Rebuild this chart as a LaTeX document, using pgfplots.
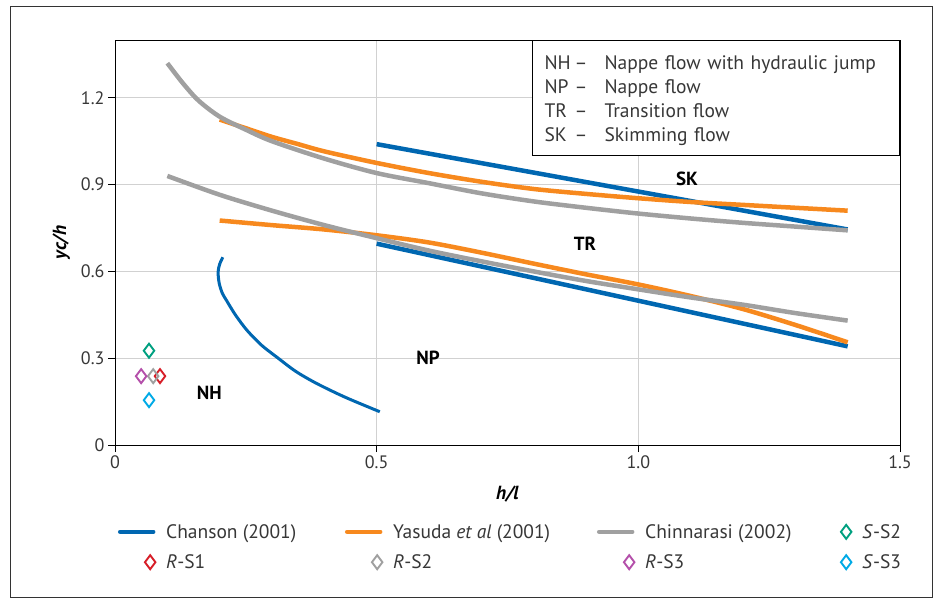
\documentclass[border=0pt]{standalone}
\usepackage{pgfplots}
\pgfplotsset{compat=1.18}
\usepackage{fontspec}
\setmainfont{PT Sans}
\definecolor{cblue}{RGB}{0,103,177}
\definecolor{corange}{RGB}{247,137,30}
\definecolor{cgray}{RGB}{160,160,160}
\definecolor{cgreen}{RGB}{0,160,128}
\definecolor{cred}{RGB}{215,30,40}
\definecolor{cpurple}{RGB}{180,80,170}
\definecolor{ccyan}{RGB}{0,170,230}
\definecolor{ctext}{RGB}{55,55,55}
\pgfplotsset{
  lineimg/.style={legend image code/.code={\path[draw=none,fill=none,use as bounding box] (0pt,-4pt) rectangle (37pt,4pt);\draw[##1,line width=4.5pt,line cap=round] (2pt,0pt) -- (35pt,0pt);}},
  markimg/.style={legend image code/.code={\path[draw=none,fill=none,use as bounding box] (0pt,-4pt) rectangle (37pt,4pt);\draw[mark repeat=1,##1] plot coordinates {(32pt,0pt)};}},
}
\begin{document}
\begin{tikzpicture}
\useasboundingbox (-115pt,-157pt) rectangle (821pt,445pt);
\draw[line width=0.8pt,black!80] (-105pt,-152pt) rectangle (817pt,439pt);
\begin{axis}[
  at={(0,0)}, anchor=south west,
  scale only axis, width=785pt, height=405pt,
  xmin=0, xmax=1.5, ymin=0, ymax=1.4,
  xtick={0,0.5,1,1.5}, xticklabels={0,0.5,1.0,1.5},
  ytick={0,0.3,0.6,0.9,1.2}, yticklabels={0,0.3,0.6,0.9,1.2},
  tick align=outside, xtick pos=bottom, ytick pos=left,
  major tick length=7pt,
  tick style={black, line width=0.8pt},
  axis line style={black, line width=0.9pt},
  grid=major, grid style={black!18, line width=0.8pt},
  ticklabel style={font=\fontsize{18}{21}\selectfont, text=ctext},
  /pgf/number format/assume math mode=true,
  xlabel={\textbf{\textit{h/l}}}, ylabel={\textbf{\textit{yc/h}}},
  label style={font=\fontsize{19}{22}\selectfont},
  xlabel style={yshift=-11pt},
  ylabel style={yshift=4pt},
  legend columns=4,
  legend style={at={(axis description cs:0.0038,-0.19)}, anchor=north west, draw=none, inner sep=0pt,
    font=\fontsize{19.5}{23}\selectfont, text=ctext,
    nodes={inner xsep=0pt, inner ysep=2pt},
    /tikz/every odd column/.append style={column sep=11pt},
    /tikz/every even column/.append style={column sep=0pt},
    row sep=11pt},
  legend cell align=left,
]
% Chanson
\addplot[cblue, line width=4.5pt, lineimg] coordinates {(0.5,1.04) (1.4,0.745)};
\addlegendentry{\makebox[179pt][l]{Chanson (2001)}}
\addplot[cblue, line width=4.5pt, forget plot] coordinates {(0.5,0.696) (1.4,0.341)};
\addplot[cblue, line width=3pt, smooth, forget plot] coordinates {
(0.206,0.649) (0.200,0.625) (0.197,0.598) (0.199,0.56) (0.205,0.525) (0.213,0.500) (0.23,0.45) (0.252,0.397) (0.28,0.345) (0.309,0.304) (0.345,0.255) (0.385,0.213) (0.44,0.165) (0.506,0.115)};
% Yasuda
\addplot[corange, line width=4.5pt, smooth, lineimg] coordinates {
(0.2,1.125) (0.25,1.095) (0.3,1.065) (0.35,1.04) (0.4,1.015) (0.5,0.975) (0.6,0.94) (0.7,0.91) (0.8,0.885) (0.9,0.868) (1.0,0.853) (1.1,0.84) (1.2,0.83) (1.3,0.82) (1.4,0.81)};
\addlegendentry{\makebox[204pt][l]{Yasuda \textit{et al} (2001)}}
\addplot[corange, line width=4.5pt, smooth, forget plot] coordinates {
(0.2,0.776) (0.3,0.76) (0.4,0.745) (0.5,0.725) (0.6,0.70) (0.7,0.665) (0.8,0.627) (0.9,0.59) (1.0,0.555) (1.1,0.515) (1.2,0.47) (1.3,0.415) (1.4,0.355)};
% Chinnarasi
\addplot[cgray, line width=4.5pt, smooth, lineimg] coordinates {
(0.1,1.32) (0.13,1.25) (0.16,1.19) (0.2,1.135) (0.25,1.09) (0.3,1.05) (0.4,0.99) (0.5,0.94) (0.6,0.905) (0.7,0.87) (0.8,0.842) (0.9,0.82) (1.0,0.80) (1.1,0.783) (1.2,0.768) (1.3,0.755) (1.4,0.742)};
\addlegendentry{\makebox[169pt][l]{Chinnarasi (2002)}}
\addplot[cgray, line width=4.5pt, smooth, forget plot] coordinates {
(0.1,0.93) (0.2,0.865) (0.3,0.81) (0.4,0.76) (0.5,0.715) (0.6,0.672) (0.7,0.635) (0.8,0.6) (0.9,0.567) (1.0,0.538) (1.1,0.51) (1.2,0.485) (1.3,0.456) (1.4,0.43)};
% markers
\addplot[only marks, mark=diamond, mark size=7pt, cgreen, line width=1.9pt, markimg] coordinates {(0.065,0.326)};
\addlegendentry{\textit{S}-S2}
\addplot[only marks, mark=diamond, mark size=7pt, cred, line width=1.9pt, markimg] coordinates {(0.086,0.238)};
\addlegendentry{\textit{R}-S1}
\addplot[only marks, mark=diamond, mark size=7pt, cgray, line width=1.9pt, markimg] coordinates {(0.073,0.238)};
\addlegendentry{\textit{R}-S2}
\addplot[only marks, mark=diamond, mark size=7pt, cpurple, line width=1.9pt, markimg] coordinates {(0.050,0.238)};
\addlegendentry{\textit{R}-S3}
\addplot[only marks, mark=diamond, mark size=7pt, ccyan, line width=1.9pt, markimg] coordinates {(0.065,0.155)};
\addlegendentry{\textit{S}-S3}
% region labels
\node[font=\fontsize{19}{22}\selectfont\bfseries] at (axis cs:0.18,0.18) {NH};
\node[font=\fontsize{19}{22}\selectfont\bfseries] at (axis cs:0.598,0.30) {NP};
\node[font=\fontsize{19}{22}\selectfont\bfseries] at (axis cs:0.898,0.697) {TR};
\node[font=\fontsize{19}{22}\selectfont\bfseries] at (axis cs:1.093,0.92) {SK};
% info box
\node[anchor=north east, draw=black, line width=0.9pt, fill=white, inner xsep=12pt, inner ysep=0pt, text width=343pt, minimum height=115pt, align=left, font=\fontsize{19.5}{24}\selectfont, text=ctext] at (rel axis cs:1,1) {%
\raisebox{-3pt}[\height][\depth]{\begin{tabular}{@{}p{30pt}@{}p{30pt}@{}l@{}}
NH & -- & Nappe flow with hydraulic jump\\
NP & -- & Nappe flow\\
TR & -- & Transition flow\\
SK & -- & Skimming flow
\end{tabular}}};
\end{axis}
\end{tikzpicture}
\end{document}
